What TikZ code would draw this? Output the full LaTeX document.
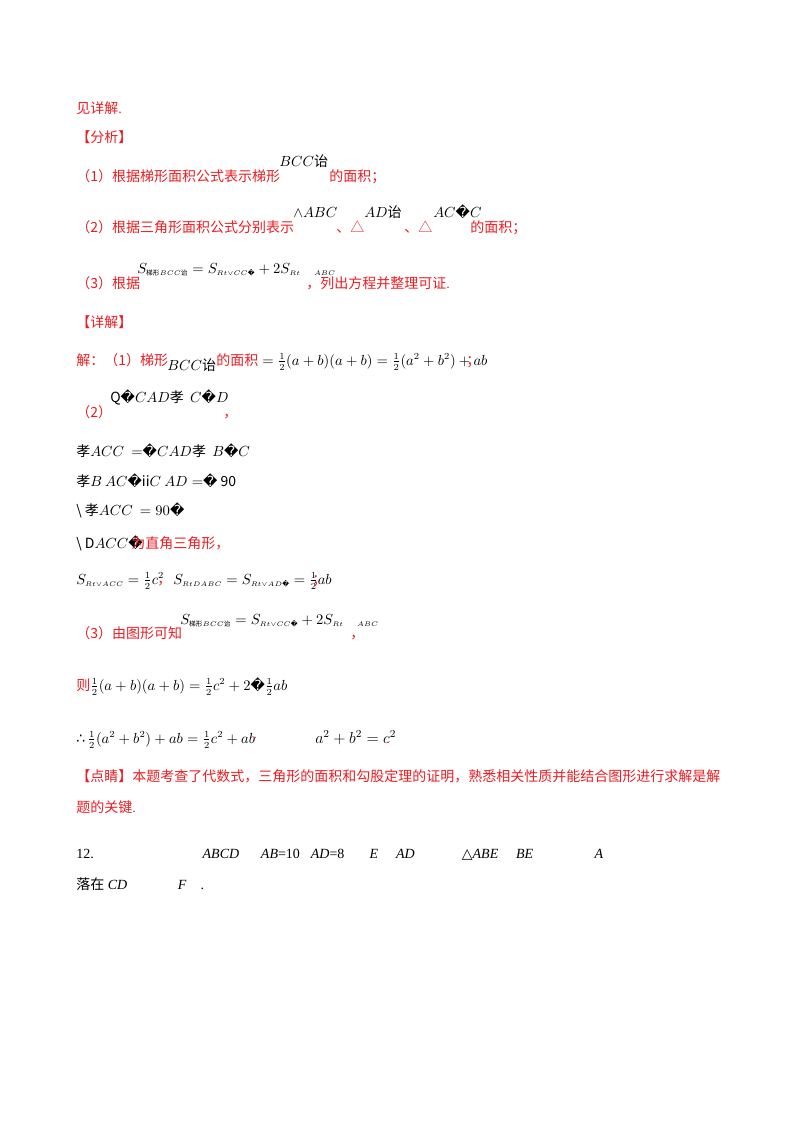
\documentclass[tikz,border=0pt]{standalone}
\usepackage{fontspec}
\setmainfont{Noto Sans CJK SC}
\newfontfamily\lat{Liberation Serif}
\newfontfamily\dv{DejaVu Sans}
\newcommand{\rp}{{\dv\symbol{"FFFD}}}
\newcommand{\zh}[1]{\mbox{\normalfont #1}}
\newcommand{\rps}{\mbox{\tiny\rp}}
\definecolor{redtxt}{RGB}{235,30,35}
\tikzset{t/.style={anchor=base west,inner sep=0pt,font=\fontsize{10.5}{12}\selectfont},
 r/.style={t,text=redtxt}, k/.style={t,text=black}}
\begin{document}
\begin{tikzpicture}[x=0.75pt,y=-0.75pt]
\useasboundingbox[fill=white] (0,0) rectangle (800,1132);
\node[r] (l1) at (76,113) {见详解\lat{.}};
\node[r] (l2) at (76,142) {【分析】};
\node[r] (l3) at (76,181) {（1）根据梯形面积公式表示梯形};
\node[k] (l3m) at (279,166) {$BCC\zh{诒}$};
\node[r] (l3b) at (329,181) {的面积；};
\node[r] (l4) at (76,232) {（2）根据三角形面积公式分别表示};
\node[k] (l4a) at (293,217) {$\wedge ABC$};
\node[r] (l4b) at (336,232) {、△};
\node[k] (l4c) at (364,217) {$AD\zh{诒}$};
\node[r] (l4d) at (404,232) {、△};
\node[k] (l4e) at (433,217) {$AC$\rp$C$};
\node[r] (l4f) at (470,232) {的面积；};
\node[r] (l5) at (76,288) {（3）根据};
\node[k] (l5m) at (137,273) {$S_{\zh{\tiny 梯形}\scriptscriptstyle BCC\zh{\tiny 诒}}=S_{\scriptscriptstyle Rt\vee CC\rps}+2S_{\scriptscriptstyle Rt\quad ABC}$};
\node[r] (l5b) at (306,288) {，列出方程并整理可证\lat{.}};
\node[r] (l6) at (76,327) {【详解】};
\node[r] (l7) at (76,365) {解：（1）梯形};
\node[k] (l7m) at (167,370) {$BCC\zh{诒}$};
\node[r] (l7b) at (216,365) {的面积};
\node[k] (l7c) at (262,365) {$=\frac12(a+b)(a+b)=\frac12(a^2+b^2)+ab$};
\node[r] (l7d) at (466,365) {；};
\node[r] (l8) at (76,417) {（2）};
\node[k] (l8m) at (110,402) {Q\rp$CAD$\zh{孝}\ \ $C$\rp$D$};
\node[r] (l8b) at (223,417) {，};
\node[k] (l9) at (76,456) {\zh{孝}$ACC\ =$\rp$CAD$\zh{孝}\ \ $B$\rp$C$};
\node[k] (l10) at (76,486) {\zh{孝}$B\ AC$\rp ii$C\ AD=$\rp\ 90};
\node[k] (l11) at (76,515) {\textbackslash\ \zh{孝}$ACC\ =90$\rp};
\node[k] (l12) at (76,548) {\textbackslash\ D$ACC$\rp};
\node[r] (l12b) at (131,548) {为直角三角形，};
\node[k] (l13) at (76,584) {$S_{\scriptscriptstyle Rt\vee ACC}=\frac12c^2$};
\node[r] (l13b) at (157,584) {，};
\node[k] (l13c) at (173,584) {$S_{\scriptscriptstyle Rt D ABC}=S_{\scriptscriptstyle Rt\vee AD\rps}=\frac12ab$};
\node[r] (l13d) at (312,584) {；};
\node[r] (l14) at (76,638) {（3）由图形可知};
\node[k] (l14m) at (180,624) {$S_{\zh{\tiny 梯形}\scriptscriptstyle BCC\zh{\tiny 诒}}=S_{\scriptscriptstyle Rt\vee CC\rps}+2S_{\scriptscriptstyle Rt\quad ABC}$};
\node[r] (l14b) at (350,638) {，};
\node[r] (l15) at (76,690) {则};
\node[k] (l15m) at (90,690) {$\frac12(a+b)(a+b)=\frac12c^2+2$\rp$\frac12ab$};
\node[k] (l16) at (76,743) {{\dv ∴}\,$\frac12(a^2+b^2)+ab=\frac12c^2+ab$};
\node[r] (l16b) at (253,738) {\lat{.}\ 因此，};
\node[k] (l16c) at (315,743) {\fontsize{12}{14}\selectfont$a^2+b^2=c^2$};
\node[r] (l16d) at (386,743) {\lat{.}};
\node[r] (l17) at (76,781) {【点睛】本题考查了代数式，三角形的面积和勾股定理的证明，熟悉相关性质并能结合图形进行求解是解};
\node[r] (l18) at (76,812) {题的关键\lat{.}};
\node[k] (l19) at (76,858) {\lat{12.}如图，已知长方形纸片\lat{\itshape ABCD}中，\lat{\itshape AB}\lat{=10}，\lat{\itshape AD}\lat{=8}，点\lat{ \itshape E }在\lat{ \itshape AD }边上，将{\dv △}\lat{\itshape ABE }沿\lat{ \itshape BE }折叠后，点\lat{ \itshape A }正好};
\node[k] (l20) at (76,889) {落在\lat{ \itshape CD }边上的点\lat{ \itshape F }处\lat{.}};
\end{tikzpicture}
\end{document}
